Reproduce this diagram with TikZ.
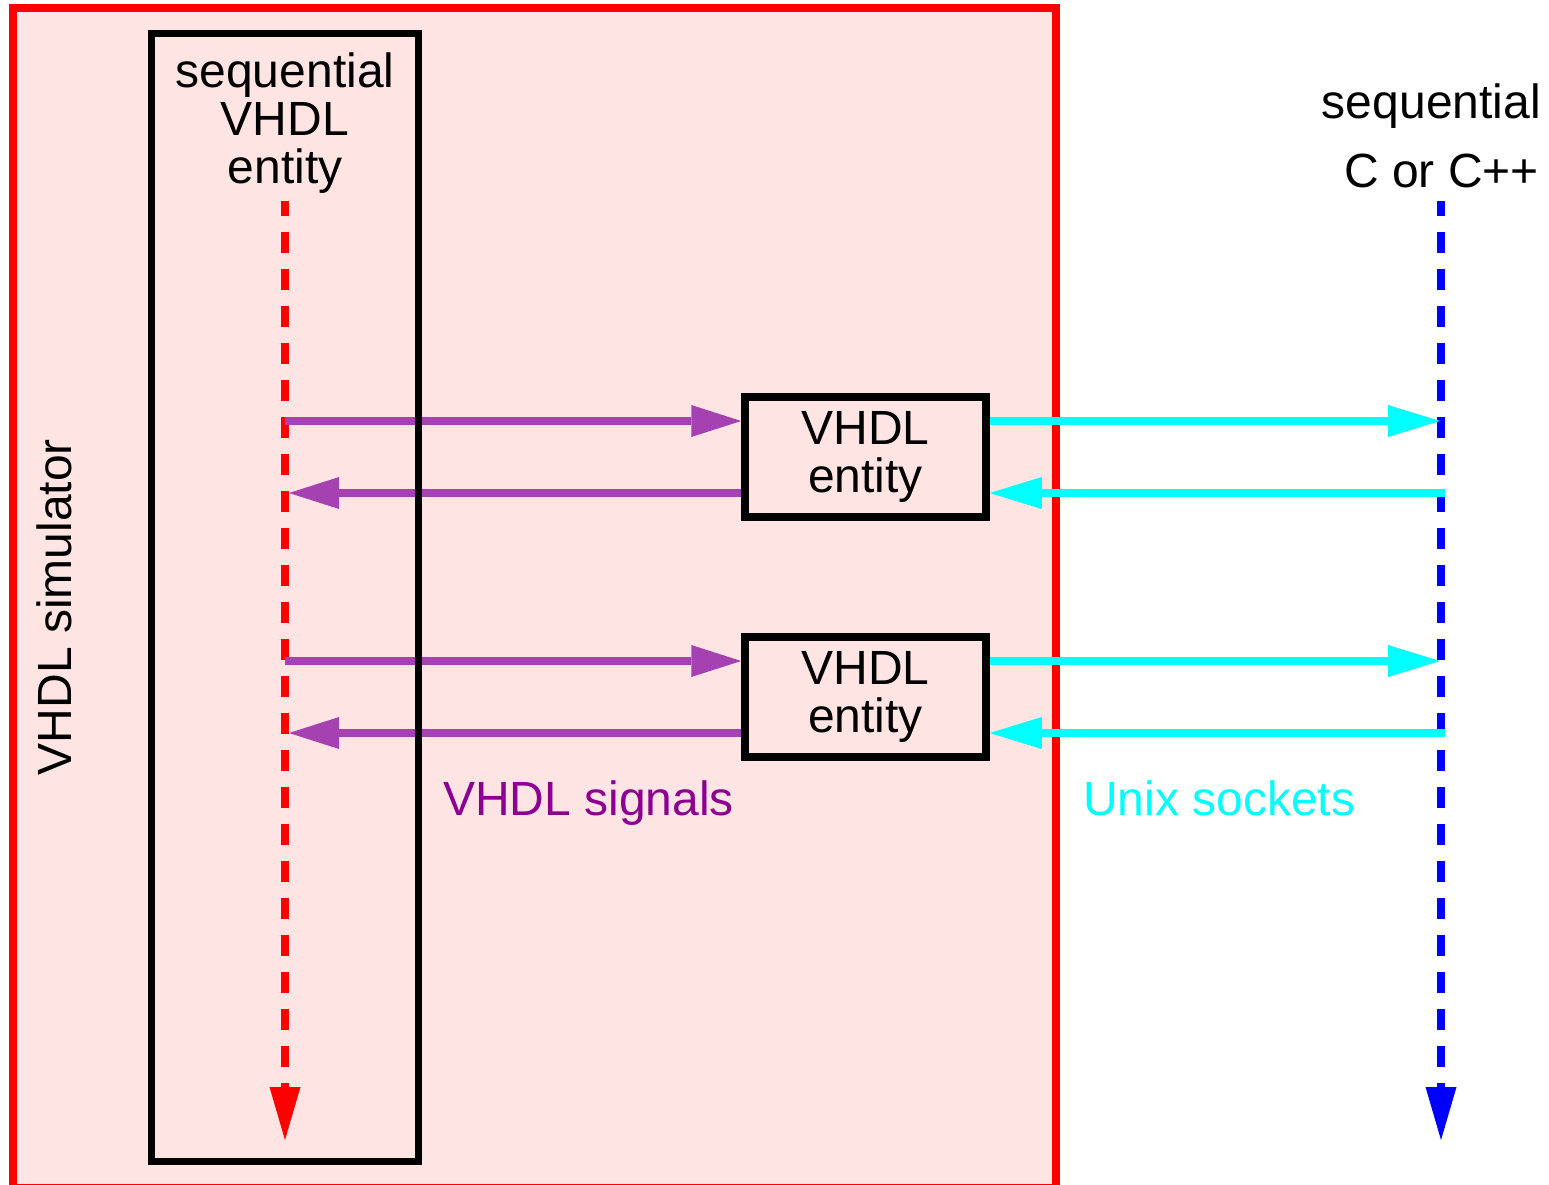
\documentclass[tikz,border=0pt]{standalone}
\usepackage{fontspec}
\setmainfont{Liberation Sans}
\usetikzlibrary{arrows.meta}
\definecolor{simfill}{RGB}{255,228,228}
\definecolor{sigline}{RGB}{166,65,177}
\definecolor{sigtext}{RGB}{139,0,145}
\definecolor{sockcyan}{RGB}{0,255,255}
\begin{document}
\begin{tikzpicture}[x=1pt,y=-1pt,
  txt/.style={font=\fontsize{48}{48}\selectfont, inner sep=0pt},
  simframe/.style={draw=red, line width=8pt, fill=simfill},
  seqframe/.style={draw=black, line width=7pt, inner sep=0pt,
    minimum width=266.5pt, minimum height=1128pt},
  entitybox/.style={txt, align=center, draw=black, line width=7.5pt,
    minimum width=241pt, minimum height=120pt},
  thread/.style={line width=8pt, dash pattern=on 21pt off 16pt, dash phase=6pt,
    -{Triangle[length=53pt,width=31pt,line width=0pt]}},
  sigarrow/.style={draw=sigline, line width=8pt,
    -{Triangle[length=50pt,width=32pt,line width=0pt]}},
  sockarrow/.style={draw=sockcyan, line width=8pt,
    -{Triangle[length=52pt,width=32pt,line width=0pt]}}
]
\useasboundingbox (0,0) rectangle (1549,1184);
\fill[white] (0,0) rectangle (1549,1184);

% simulator frame, open at the bottom edge
\draw[simframe] (13,8) rectangle (1056,1188);

% ends of the two threads of control
\coordinate (rtop) at (285,201);
\coordinate (rbot) at (285,1140);
\coordinate (ctop) at (1441,201);
\coordinate (cbot) at (1441,1140);
\draw[thread, red] (rtop) -- (rbot);
\draw[thread, blue] (ctop) -- (cbot);

% entities bridging signals and sockets
\node[entitybox] (e1) at (865.5,457) {VHDL\\entity};
\node[entitybox] (e2) at (865.5,697) {VHDL\\entity};

% points where arrows meet the threads
\coordinate (r1) at (285,421);
\coordinate (r2) at (289,493);
\coordinate (r3) at (285,661);
\coordinate (r4) at (289,733);
\coordinate (b1) at (1440,421);
\coordinate (b2) at (1445,493);
\coordinate (b3) at (1440,661);
\coordinate (b4) at (1445,733);

\draw[sigarrow] (r1) -- (r1 -| e1.west);
\draw[sigarrow] (e1.west |- r2) -- (r2);
\draw[sigarrow] (r3) -- (r3 -| e2.west);
\draw[sigarrow] (e2.west |- r4) -- (r4);

\draw[sockarrow] (e1.east |- b1) -- (b1);
\draw[sockarrow] (b2) -- (b2 -| e1.east);
\draw[sockarrow] (e2.east |- b3) -- (b3);
\draw[sockarrow] (b4) -- (b4 -| e2.east);

% sequential VHDL entity
\node[seqframe] (seqbox) at (284.75,597) {};
\node[txt, align=center] (seqlabel) at (285,123.5) {sequential\\VHDL\\entity};

% labels
\node[txt, rotate=90] (simlabel) at (54.5,607) {VHDL simulator};
\node[txt, anchor=base east] (clabel1) at (1541,118) {sequential};
\node[txt, anchor=base east] (clabel2) at (1539,187) {C or C++};
\node[txt, anchor=base west, text=sigtext] (siglabel) at (443,815) {VHDL signals};
\node[txt, anchor=base west, text=sockcyan] (socklabel) at (1083,815) {Unix sockets};
\end{tikzpicture}
\end{document}
